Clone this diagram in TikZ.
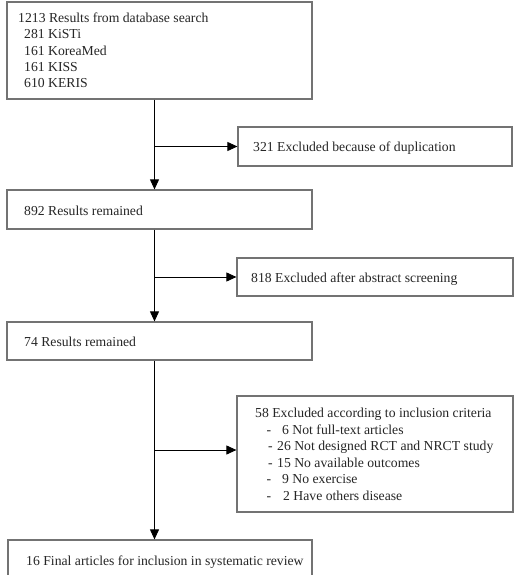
\documentclass[tikz,border=0pt]{standalone}
\usepackage{fontspec}
\setmainfont{Liberation Serif}
\usetikzlibrary{arrows.meta}
\tikzset{
  box/.style={draw=black!55, line width=1.2pt, inner sep=0pt, fill=none},
  txt/.style={anchor=base west, inner sep=0pt, font=\fontsize{13.7}{16.4}\selectfont, text=black!85},
  arr/.style={draw=black, line width=0.9pt, -{Triangle[length=10pt,width=9pt]}},
}
\begin{document}
\begin{tikzpicture}[x=1pt,y=-1pt]
\useasboundingbox (0,0) rectangle (521,575);
\fill[white] (0,0) rectangle (521,575);

% boxes
\node[box, minimum width=305pt, minimum height=97pt]  (b1)  at (159.5,50.5) {};
\node[box, minimum width=274pt, minimum height=39pt]  (ex1) at (375,146.5) {};
\node[box, minimum width=305pt, minimum height=39pt]  (b2)  at (159.5,209.5) {};
\node[box, minimum width=276pt, minimum height=38pt]  (ex2) at (375,277) {};
\node[box, minimum width=305pt, minimum height=38pt]  (b3)  at (159.5,341) {};
\node[box, minimum width=276pt, minimum height=116pt] (ex3) at (375,454) {};
\node[box, minimum width=304pt, minimum height=42pt]  (b4)  at (160,561) {};

% texts
\node[txt] (t11) at (18,22.5) {1213 Results from database search};
\node[txt] (t12) at (24,38.8) {281 KiSTi};
\node[txt] (t13) at (24,55.1) {161 KoreaMed};
\node[txt] (t14) at (24,71.4) {161 KISS};
\node[txt] (t15) at (24,87.7) {610 KERIS};

\node[txt] (te1) at (253,151.5) {321 Excluded because of duplication};
\node[txt] (t2)  at (24,215.5) {892 Results remained};
\node[txt] (te2) at (251,282) {818 Excluded after abstract screening};
\node[txt] (t3)  at (24,346) {74 Results remained};

\node[txt] (te31) at (255,417.5) {58 Excluded according to inclusion criteria};
\node[txt] (d1) at (266.5,434.1) {-};
\node[txt] (te32) at (282,434.1) {6 Not full-text articles};
\node[txt] (d2) at (268,450.7) {-};
\node[txt] (te33) at (277,450.7) {26 Not designed RCT and NRCT study};
\node[txt] (d3) at (268,467.3) {-};
\node[txt] (te34) at (277,467.3) {15 No available outcomes};
\node[txt] (d4) at (266.5,483.9) {-};
\node[txt] (te35) at (282,483.9) {9 No exercise};
\node[txt] (d5) at (266.5,500.5) {-};
\node[txt] (te36) at (283,500.5) {2 Have others disease};

\node[txt] (t4) at (26,565) {16 Final articles for inclusion in systematic review};

% connectors
\coordinate (v) at (154.5,0);
\draw[arr] (b1.south -| v) -- (b2.north -| v);
\draw[arr] (ex1.west -| v) -- (ex1.west);
\draw[arr] (b2.south -| v) -- (b3.north -| v);
\draw[arr] (ex2.west -| v) -- (ex2.west);
\draw[arr] (b3.south -| v) -- (b4.north -| v);
\draw[arr] ([yshift=4pt]ex3.west -| v) -- ([yshift=4pt]ex3.west);
\end{tikzpicture}
\end{document}
